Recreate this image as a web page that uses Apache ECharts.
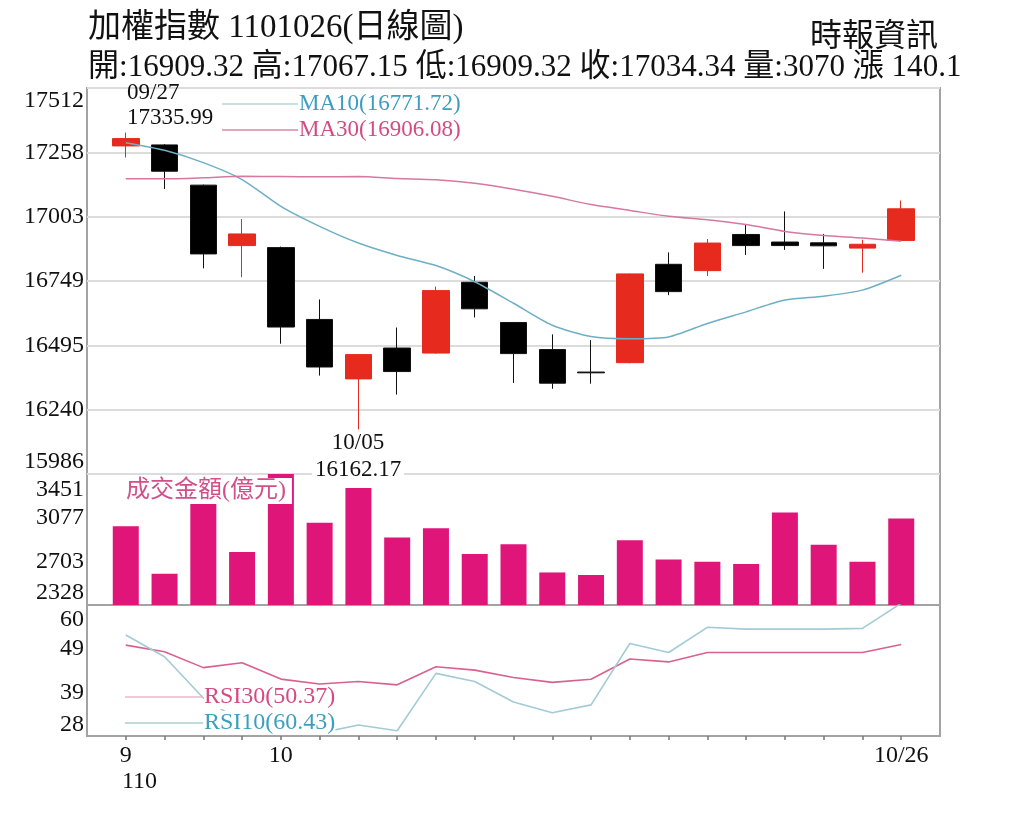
<!DOCTYPE html>
<html>
<head>
<meta charset="utf-8">
<script src="https://cdn.jsdelivr.net/npm/echarts@6/dist/echarts.min.js"></script>
<style>
  html, body { margin: 0; padding: 0; background: #fff; }
  #chart { width: 1024px; height: 820px; }
</style>
</head>
<body>
<div id="chart"></div>
<script>
// 加權指數 日線圖 資料
const dates = ['09/27', '09/28', '09/29', '09/30', '10/01', '10/04', '10/05', '10/06', '10/07', '10/08',
  '10/12', '10/13', '10/14', '10/15', '10/18', '10/19', '10/20', '10/21', '10/22', '10/25', '10/26'];
const openP = [17283, 17287, 17128, 16889, 16881, 16597, 16362, 16484, 16464, 16744,
  16585, 16478, 16389, 16426, 16815, 16790, 16933, 16903, 16900, 16879, 16909.32];
const closeP = [17312, 17183, 16856, 16935, 16567, 16409, 16458, 16391, 16711, 16639,
  16462, 16345, 16386, 16777, 16707, 16899, 16889, 16889, 16888, 16894.24, 17034.34];
const lowP = [17237, 17113, 16799, 16764, 16501, 16375, 16162.17, 16300, 16462, 16605,
  16346, 16323, 16343, 16424, 16693, 16769, 16852, 16872, 16797, 16782, 16909.32];
const highP = [17335.99, 17290, 17130, 16994, 16885, 16676, 16460, 16565, 16727, 16769,
  16587, 16538, 16515, 16778, 16862, 16915, 16972, 17024, 16935, 16912, 17067.15];
const ma10 = [17296, 17266, 17217, 17150, 17044, 16965, 16899, 16850, 16810, 16746,
  16661, 16574, 16530, 16521, 16528, 16581, 16627, 16674, 16689, 16713, 16771.72];
const ma30 = [17153, 17153, 17157, 17163, 17162, 17161, 17162, 17154, 17149, 17135,
  17112, 17084, 17051, 17028, 17005, 16991, 16972, 16945, 16929, 16919, 16906.08];
const amount = [3004, 2596, 3198, 2783, 3451, 3034, 3330, 2907, 2987, 2766,
  2849, 2607, 2585, 2883, 2717, 2699, 2680, 3120, 2844, 2699, 3070];
const rsi10 = [52.67, 47.37, 37.3, 31.4, 30.0, 28.7, 30.7, 29.3, 43.3, 41.3,
  36.3, 33.7, 35.6, 50.6, 48.4, 54.55, 54.1, 54.1, 54.1, 54.3, 60.43];
const rsi30 = [50.2, 48.6, 44.7, 45.9, 41.9, 40.7, 41.3, 40.5, 44.9, 44.1,
  42.3, 41.1, 41.85, 46.8, 46.1, 48.4, 48.4, 48.4, 48.4, 48.4, 50.37];

// 刻度標籤
const priceTicks = ['15986', '16240', '16495', '16749', '17003', '17258', '17512'];
const amountTicks = ['2328', '2703', '3077', '3451'];
const rsiTicks = ['28', '39', '49', '60'];
const xLabelIdx = [0, 4, 20];
const xLabelText = ['9', '10', '10/26'];

const FONT = '"Liberation Serif", "Noto Sans CJK TC", serif';
const idx = dates.map((d, i) => i);

function tickAxis(gridIndex, ticks, padTop, padBottom, split) {
  const last = ticks.length - 1;
  return {
    type: 'value', gridIndex: gridIndex, position: 'left',
    min: 0, max: last, interval: 1,
    axisLine: { show: false }, axisTick: { show: false },
    splitLine: { show: split, lineStyle: { color: '#dcdcdc', width: 2 } },
    axisLabel: {
      margin: 3, fontSize: 24, fontFamily: FONT, color: '#111',
      formatter: function (v) {
        if (v === 0) return '{lo|' + ticks[0] + '}';
        if (v === last) return '{hi|' + ticks[last] + '}';
        return ticks[v];
      },
      rich: {
        hi: { padding: [padTop, 0, 0, 0], fontSize: 24, fontFamily: FONT, color: '#111' },
        lo: { padding: [0, 0, padBottom, 0], fontSize: 24, fontFamily: FONT, color: '#111' }
      }
    }
  };
}

function hiddenX(gridIndex) {
  return { type: 'value', gridIndex: gridIndex, min: -1, max: 21, show: false, splitLine: { show: false } };
}

function txt(x, y, text, size, fill, extra) {
  return {
    type: 'text', x: x, y: y, z: 100,
    style: Object.assign({ text: text, fontSize: size, fontFamily: FONT, fill: fill,
      align: 'left', verticalAlign: 'middle' }, extra || {})
  };
}
function seg(x1, x2, y, color) {
  return { type: 'line', z: 99, shape: { x1: x1, y1: y, x2: x2, y2: y }, style: { stroke: color, lineWidth: 1.5 } };
}

const chart = echarts.init(document.getElementById('chart'));
const gridBase = { left: 87, width: 853, show: true, borderColor: '#a3a3a3', borderWidth: 2, outerBoundsMode: 'none' };

const option = {
  animation: false,
  backgroundColor: '#fff',
  grid: [
    Object.assign({ top: 88, height: 386 }, gridBase),
    Object.assign({ top: 474, height: 131 }, gridBase),
    Object.assign({ top: 605, height: 131 }, gridBase)
  ],
  xAxis: [
    hiddenX(0),
    hiddenX(1),
    {
      type: 'value', gridIndex: 2, min: -1, max: 21,
      splitLine: { show: false },
      axisLine: { show: false },
      axisTick: { show: true, customValues: idx, length: 4, lineStyle: { color: '#777', width: 1.5 } },
      axisLabel: {
        customValues: xLabelIdx, margin: 8, fontSize: 24, fontFamily: FONT, color: '#111',
        formatter: function (v) { return xLabelText[xLabelIdx.indexOf(v)]; }
      }
    }
  ],
  yAxis: [
    { type: 'value', gridIndex: 0, min: 15986, max: 17512, show: false, splitLine: { show: false } },
    tickAxis(0, priceTicks, 26, 24, true),
    { type: 'value', gridIndex: 1, min: 2328, max: 3451, show: false, splitLine: { show: false } },
    tickAxis(1, amountTicks, 32, 24, false),
    { type: 'value', gridIndex: 2, min: 28, max: 60, show: false, splitLine: { show: false } },
    tickAxis(2, rsiTicks, 30, 22, false)
  ],
  series: [
    {
      type: 'candlestick', xAxisIndex: 0, yAxisIndex: 0,
      data: idx.map(i => [i, openP[i], closeP[i], lowP[i], highP[i]]),
      encode: { x: 0, y: [1, 2, 3, 4] },
      barWidth: 27,
      itemStyle: { color: '#e62a1e', color0: '#000', borderColor: '#e62a1e', borderColor0: '#111', borderWidth: 1 }
    },
    {
      type: 'line', xAxisIndex: 0, yAxisIndex: 0, smooth: 0.25, showSymbol: false, z: 3,
      data: idx.map(i => [i, ma10[i]]),
      lineStyle: { color: '#6eafc5', width: 1.5 }
    },
    {
      type: 'line', xAxisIndex: 0, yAxisIndex: 0, smooth: 0.25, showSymbol: false, z: 3,
      data: idx.map(i => [i, ma30[i]]),
      lineStyle: { color: '#d6789f', width: 1.5 }
    },
    {
      type: 'bar', xAxisIndex: 1, yAxisIndex: 2, barWidth: 26,
      data: idx.map(i => [i, amount[i]]),
      itemStyle: { color: '#e0157a' }
    },
    {
      type: 'line', xAxisIndex: 2, yAxisIndex: 4, showSymbol: false,
      data: idx.map(i => [i, rsi30[i]]),
      lineStyle: { color: '#d9618f', width: 1.6 }
    },
    {
      type: 'line', xAxisIndex: 2, yAxisIndex: 4, showSymbol: false,
      data: idx.map(i => [i, rsi10[i]]),
      lineStyle: { color: '#a2cbd6', width: 1.6 }
    }
  ],
  graphic: [
    txt(88, 28, '加權指數 1101026(日線圖)', 33, '#111'),
    txt(810, 38, '時報資訊', 32, '#111'),
    Object.assign(txt(88, 68, '開:16909.32 高:17067.15 低:16909.32 收:17034.34 量:3070 漲 140.1', 32, '#111'), { scaleX: 0.97 }),
    seg(222, 298, 104, '#b9d3dc'),
    txt(299, 104, 'MA10(16771.72)', 23, '#3d9dbd'),
    seg(222, 298, 130, '#d88aa8'),
    txt(299, 130, 'MA30(16906.08)', 23, '#d24c82'),
    txt(127, 93, '09/27', 23, '#111'),
    txt(127, 118, '17335.99', 23, '#111', { backgroundColor: '#fff' }),
    txt(358, 443, '10/05', 23, '#111', { align: 'center' }),
    txt(358, 470, '16162.17', 23, '#111', { align: 'center', backgroundColor: '#fff', padding: [0, 3] }),
    txt(124, 491, '成交金額(億元)', 24, '#d2508a', { backgroundColor: '#fff', padding: [1, 6, 1, 2] }),
    seg(125, 203, 697, '#f0b5c8'),
    txt(204, 697, 'RSI30(50.37)', 24, '#d54a80', { backgroundColor: '#fff' }),
    seg(125, 203, 723, '#a9cdd6'),
    txt(204, 723, 'RSI10(60.43)', 24, '#3d9fbd', { backgroundColor: '#fff' }),
    txt(122, 782, '110', 24, '#111')
  ]
};
chart.setOption(option);
</script>
</body>
</html>
